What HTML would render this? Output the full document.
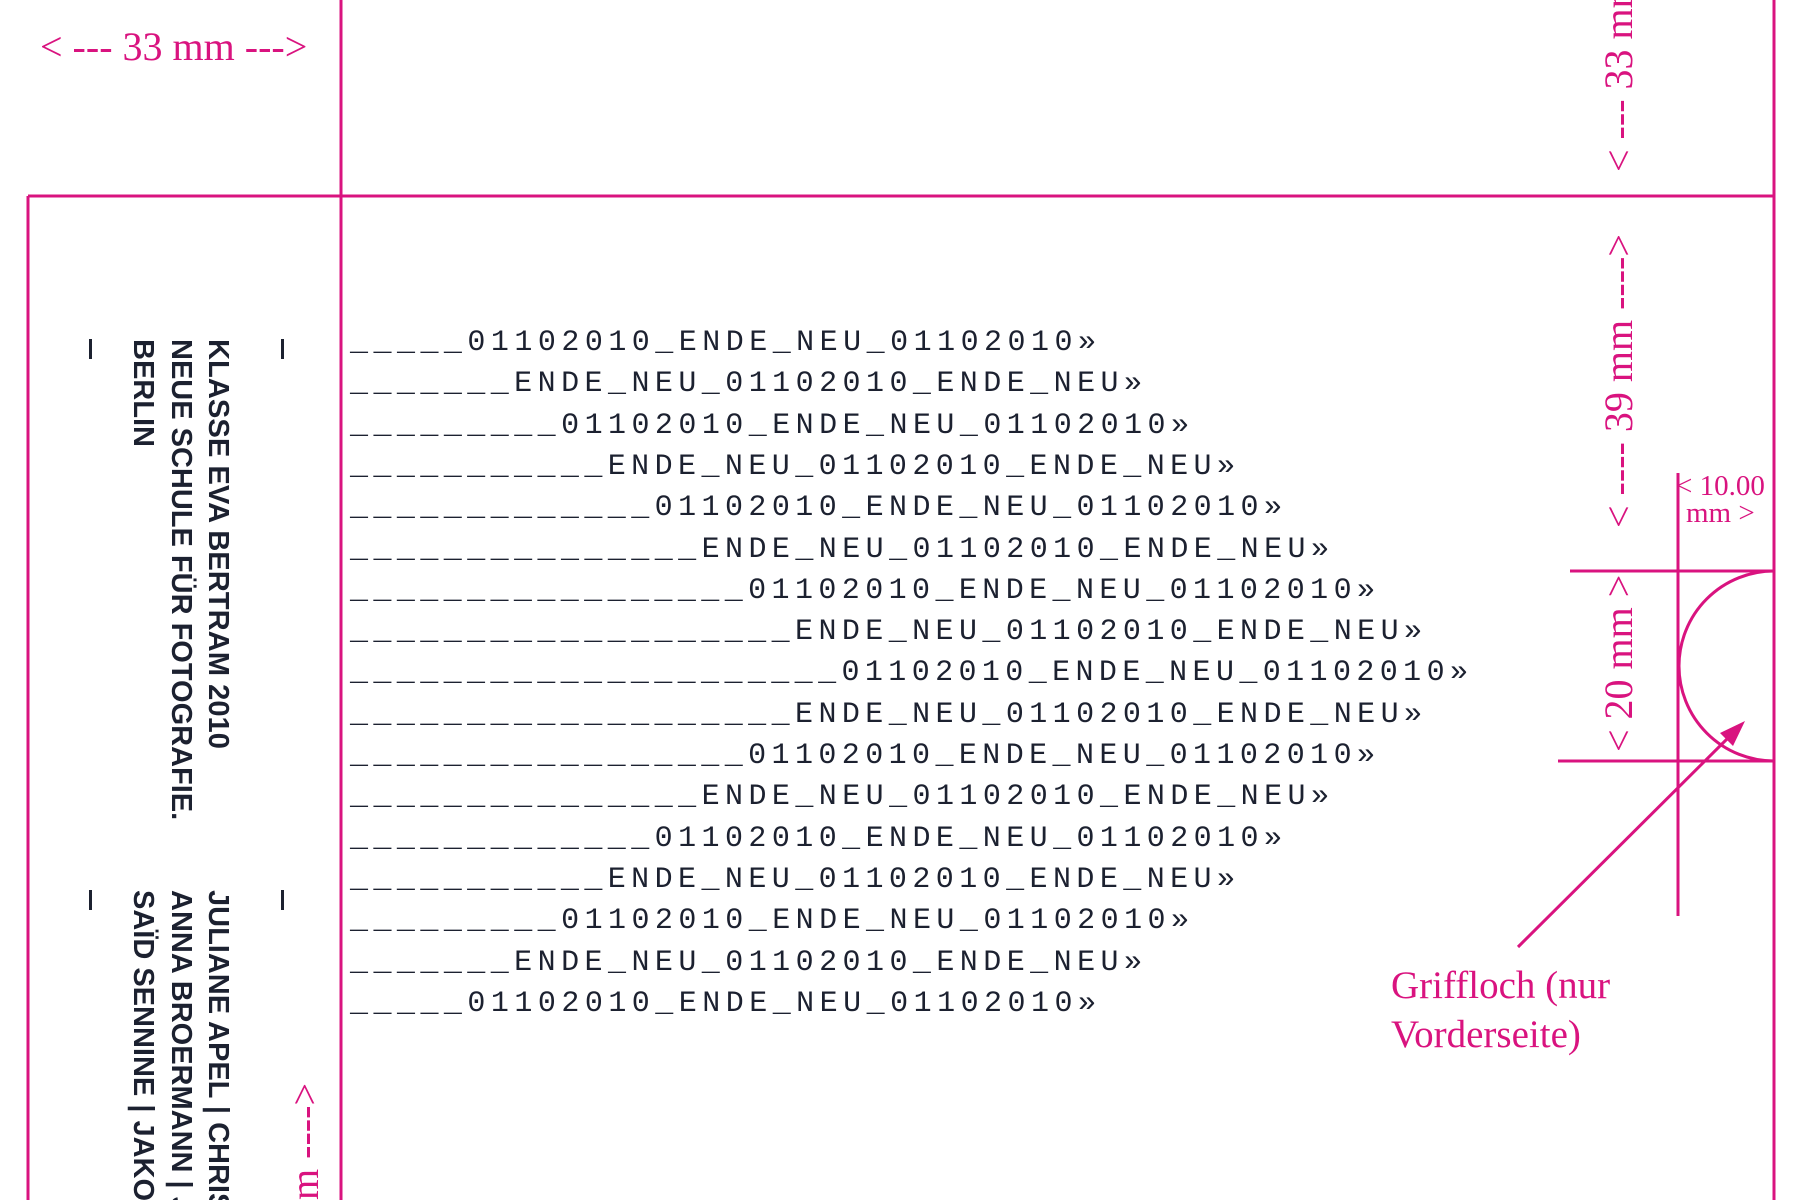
<!DOCTYPE html>
<html><head><meta charset="utf-8"><style>
html,body{margin:0;padding:0;background:#fff;width:1800px;height:1200px;overflow:hidden;}
svg{display:block;}
.m{fill:#d9137f;font-family:"Liberation Serif",serif;}
.d{fill:#1c2130;font-family:"Liberation Sans",sans-serif;font-weight:bold;font-size:29px;}
.c{fill:#1c2130;font-family:"Liberation Mono",monospace;font-size:30px;}
</style></head><body>
<svg width="1800" height="1200" viewBox="0 0 1800 1200" xmlns="http://www.w3.org/2000/svg">
<g stroke="#d9137f" stroke-width="3" fill="none">
<line x1="28" y1="196" x2="28" y2="1200"/>
<line x1="341" y1="0" x2="341" y2="1200"/>
<line x1="28" y1="196" x2="1774" y2="196"/>
<line x1="1774" y1="0" x2="1774" y2="1200"/>
<line x1="1678" y1="473" x2="1678" y2="916"/>
<line x1="1570" y1="571" x2="1774" y2="571"/>
<line x1="1558" y1="761" x2="1774" y2="761"/>
<path d="M1774 571 A95 95 0 0 0 1774 761"/>
<line x1="1518" y1="947" x2="1730" y2="736"/>
</g>
<polygon points="1745,721 1720,733 1733,746" fill="#d9137f"/>
<text class="m" x="40" y="60" font-size="40">&lt; --- 33 mm ---&gt;</text>
<text class="m" font-size="40" transform="translate(1632,172) rotate(-90)">&lt; --- 33 mm</text>
<text class="m" font-size="40" transform="translate(1632,528) rotate(-90)">&lt; ---- 39 mm ----&gt;</text>
<text class="m" font-size="40" transform="translate(1632,752) rotate(-90)">&lt; 20 mm &gt;</text>
<text class="m" font-size="40" text-anchor="end" transform="translate(318,1083) rotate(-90)">&lt; ---- 39 mm ----&gt;</text>
<text class="m" x="1676" y="495" font-size="29">&lt; 10.00</text>
<text class="m" x="1686" y="522" font-size="29">mm &gt;</text>
<text class="m" x="1391" y="998" font-size="39">Griffloch (nur</text>
<text class="m" x="1391" y="1047" font-size="39">Vorderseite)</text>
<g fill="#1c2130">
<rect x="89" y="339" width="3" height="20"/><rect x="281" y="339" width="3" height="20"/>
<rect x="89" y="890" width="3" height="20"/><rect x="281" y="890" width="3" height="20"/>
</g>
<text class="d" transform="translate(209,339) rotate(90)" textLength="410" lengthAdjust="spacingAndGlyphs">KLASSE EVA BERTRAM 2010</text>
<text class="d" transform="translate(172,339) rotate(90)">NEUE SCHULE FÜR FOTOGRAFIE.</text>
<text class="d" transform="translate(134,339) rotate(90)">BERLIN</text>
<text class="d" transform="translate(209,890) rotate(90)">JULIANE APEL | CHRISTIAN</text>
<text class="d" transform="translate(172,890) rotate(90)">ANNA BROERMANN | JULIA</text>
<text class="d" transform="translate(134,890) rotate(90)">SAÏD SENNINE | JAKOB</text>
<text class="c" x="350" y="350" textLength="746" lengthAdjust="spacing">_____01102010_ENDE_NEU_01102010»</text>
<text class="c" x="350" y="391" textLength="792" lengthAdjust="spacing">_______ENDE_NEU_01102010_ENDE_NEU»</text>
<text class="c" x="350" y="433" textLength="839" lengthAdjust="spacing">_________01102010_ENDE_NEU_01102010»</text>
<text class="c" x="350" y="474" textLength="885" lengthAdjust="spacing">___________ENDE_NEU_01102010_ENDE_NEU»</text>
<text class="c" x="350" y="515" textLength="932" lengthAdjust="spacing">_____________01102010_ENDE_NEU_01102010»</text>
<text class="c" x="350" y="557" textLength="979" lengthAdjust="spacing">_______________ENDE_NEU_01102010_ENDE_NEU»</text>
<text class="c" x="350" y="598" textLength="1025" lengthAdjust="spacing">_________________01102010_ENDE_NEU_01102010»</text>
<text class="c" x="350" y="639" textLength="1072" lengthAdjust="spacing">___________________ENDE_NEU_01102010_ENDE_NEU»</text>
<text class="c" x="350" y="680" textLength="1118" lengthAdjust="spacing">_____________________01102010_ENDE_NEU_01102010»</text>
<text class="c" x="350" y="722" textLength="1072" lengthAdjust="spacing">___________________ENDE_NEU_01102010_ENDE_NEU»</text>
<text class="c" x="350" y="763" textLength="1025" lengthAdjust="spacing">_________________01102010_ENDE_NEU_01102010»</text>
<text class="c" x="350" y="804" textLength="979" lengthAdjust="spacing">_______________ENDE_NEU_01102010_ENDE_NEU»</text>
<text class="c" x="350" y="846" textLength="932" lengthAdjust="spacing">_____________01102010_ENDE_NEU_01102010»</text>
<text class="c" x="350" y="887" textLength="885" lengthAdjust="spacing">___________ENDE_NEU_01102010_ENDE_NEU»</text>
<text class="c" x="350" y="928" textLength="839" lengthAdjust="spacing">_________01102010_ENDE_NEU_01102010»</text>
<text class="c" x="350" y="970" textLength="792" lengthAdjust="spacing">_______ENDE_NEU_01102010_ENDE_NEU»</text>
<text class="c" x="350" y="1011" textLength="746" lengthAdjust="spacing">_____01102010_ENDE_NEU_01102010»</text>
</svg>
</body></html>
